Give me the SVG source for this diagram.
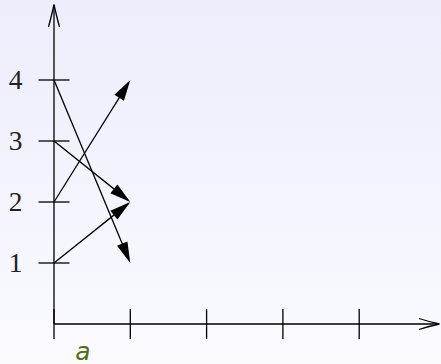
<svg xmlns="http://www.w3.org/2000/svg" width="441" height="364" viewBox="0 0 441 364">
  <defs>
    <linearGradient id="bg" x1="0" y1="0" x2="0" y2="1">
      <stop offset="0" stop-color="#ededfc"/>
      <stop offset="1" stop-color="#fafaff"/>
    </linearGradient>
    <marker id="head" markerUnits="userSpaceOnUse" orient="auto" markerWidth="24" markerHeight="14" viewBox="0 -7 24 14" refX="18" refY="0" overflow="visible">
      <path d="M0,-5.6 L21,0 L0,5.6 Z" fill="#000"/>
    </marker>
  </defs>
  <style>
    .ax { stroke: #000; stroke-width: 1.3; fill: none; }
    .tk { stroke: #000; stroke-width: 1.3; }
    .ar { stroke: #000; stroke-width: 1.3; fill: none; marker-end: url(#head); }
    .num { font-family: "Liberation Serif", "DejaVu Serif", serif; font-size: 27.5px; fill: #222; text-anchor: middle; }
    .lbl { font-family: "DejaVu Sans", "Liberation Sans", sans-serif; font-style: italic; font-size: 25px; fill: #4e7010; text-anchor: middle; }
  </style>
  <rect x="0" y="0" width="441" height="364" fill="url(#bg)"/>
  <g id="axes">
    <line class="ax" x1="54" y1="324" x2="54" y2="5"/>
    <path class="ax" d="M48.5,27 Q52,14 54,4.5 Q56,14 59.5,27"/>
    <line class="ax" x1="54" y1="324" x2="439" y2="324"/>
    <path class="ax" d="M419,318.5 Q430,322 439.5,324 Q430,326 419,329.5"/>
  </g>
  <g id="ticks">
    <line class="tk" x1="54" y1="309" x2="54" y2="339"/>
    <line class="tk" x1="130.3" y1="309" x2="130.3" y2="339"/>
    <line class="tk" x1="206.6" y1="309" x2="206.6" y2="339"/>
    <line class="tk" x1="282.9" y1="309" x2="282.9" y2="339"/>
    <line class="tk" x1="359.2" y1="309" x2="359.2" y2="339"/>
    <line class="tk" x1="38.5" y1="263" x2="69.5" y2="263"/>
    <line class="tk" x1="38.5" y1="202" x2="69.5" y2="202"/>
    <line class="tk" x1="38.5" y1="141" x2="69.5" y2="141"/>
    <line class="tk" x1="38.5" y1="80" x2="69.5" y2="80"/>
  </g>
  <g id="labels">
    <text class="num" x="15.5" y="272">1</text>
    <text class="num" x="15.5" y="211">2</text>
    <text class="num" x="15.5" y="150">3</text>
    <text class="num" x="15.5" y="89">4</text>
    <text class="lbl" x="83" y="360">a</text>
  </g>
  <g id="connectors">
    <line class="ar" x1="54" y1="80" x2="129.15" y2="260.23"/>
    <line class="ar" x1="54" y1="141" x2="127.96" y2="200.13"/>
    <line class="ar" x1="54" y1="202" x2="128.71" y2="82.54"/>
    <line class="ar" x1="54" y1="263" x2="127.96" y2="203.87"/>
  </g>
</svg>
